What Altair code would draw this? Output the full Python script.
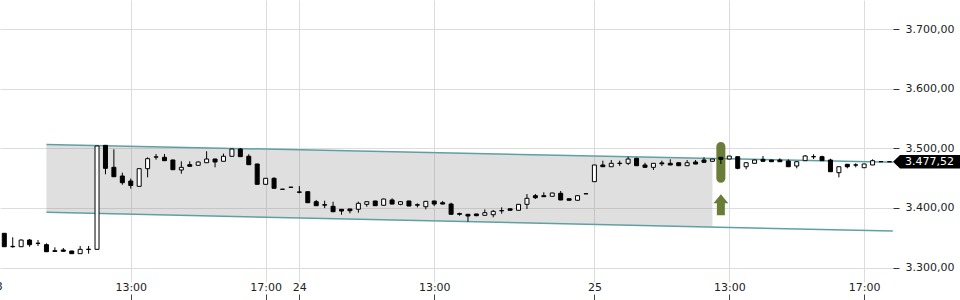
import altair as alt
import pandas as pd

# ---------------- data ----------------
open_ = [3357.4, 3335.5, 3334.9, 3346.1, 3340.8, 3338.3, 3328.2, 3329.4, 3327.7, 3323.2,
         3330.2, 3330.5, 3505.0, 3468.1, 3453.5, 3445.1, 3436.2, 3465.8, 3485.2, 3484.9,
         3480.4, 3463.6, 3472.5, 3471.5, 3475.8, 3482.0, 3478.2, 3486.6, 3498.8, 3486.6,
         3473.7, 3439.6, 3449.7, 3431.4, 3434.8, 3426.8, 3427.2, 3410.4, 3405.4, 3402.7,
         3397.6, 3398.2, 3397.7, 3406.0, 3411.6, 3404.4, 3413.3, 3406.0, 3411.6, 3405.3,
         3402.0, 3411.6, 3408.7, 3406.5, 3390.5, 3389.3, 3389.8, 3387.6, 3388.6, 3395.1,
         3398.5, 3396.0, 3406.0, 3420.5, 3420.5, 3419.5, 3424.5, 3415.4, 3412.8, 3423.6,
         3444.0, 3472.0, 3469.1, 3475.0, 3474.8, 3483.2, 3472.0, 3468.1, 3475.5, 3474.8,
         3475.8, 3470.8, 3477.0, 3480.4, 3478.2, 3484.9, 3482.0, 3485.9, 3469.1, 3474.8,
         3481.5, 3480.4, 3480.4, 3478.7, 3470.3, 3479.2, 3485.7, 3485.9, 3480.4, 3459.1,
         3473.2, 3472.2, 3467.4, 3472.0, 3477.6, 3477.5]
high = [3357.6, 3350.7, 3347.0, 3347.8, 3346.1, 3340.6, 3333.9, 3332.7, 3328.0, 3336.1,
        3336.1, 3504.2, 3505.5, 3498.3, 3459.1, 3449.3, 3466.0, 3484.9, 3490.4, 3490.4,
        3481.0, 3478.2, 3478.2, 3478.0, 3495.0, 3482.5, 3491.0, 3499.5, 3500.5, 3490.0,
        3474.0, 3450.0, 3451.3, 3431.6, 3435.0, 3436.7, 3427.5, 3413.3, 3412.1, 3410.4,
        3397.8, 3398.5, 3410.4, 3411.0, 3412.0, 3415.5, 3416.1, 3411.5, 3412.0, 3407.7,
        3411.3, 3412.0, 3411.6, 3408.7, 3392.0, 3389.5, 3390.3, 3397.6, 3396.5, 3401.0,
        3398.6, 3406.2, 3423.3, 3423.3, 3426.2, 3425.5, 3428.4, 3415.7, 3421.0, 3424.0,
        3472.2, 3479.2, 3480.4, 3479.2, 3485.9, 3484.0, 3475.8, 3475.0, 3479.2, 3481.5,
        3476.0, 3480.4, 3480.4, 3484.9, 3482.2, 3485.0, 3487.2, 3486.0, 3476.0, 3480.6,
        3487.1, 3480.6, 3483.2, 3481.5, 3477.7, 3488.8, 3490.0, 3487.6, 3482.5, 3469.3,
        3473.4, 3474.8, 3474.0, 3481.5, 3477.7, 3477.6]
low = [3334.7, 3333.2, 3334.5, 3334.9, 3336.1, 3326.0, 3326.5, 3326.5, 3323.0, 3323.0,
       3323.2, 3330.0, 3456.4, 3452.0, 3438.9, 3432.4, 3436.0, 3451.3, 3480.9, 3479.0,
       3463.5, 3457.4, 3469.6, 3471.0, 3475.5, 3468.1, 3478.0, 3486.0, 3485.8, 3472.0,
       3439.0, 3439.0, 3432.5, 3431.0, 3434.4, 3424.5, 3408.5, 3403.5, 3399.7, 3393.0,
       3388.6, 3390.9, 3392.0, 3402.0, 3403.5, 3404.0, 3406.0, 3404.5, 3403.0, 3401.0,
       3397.6, 3403.2, 3406.0, 3389.0, 3387.0, 3376.8, 3386.0, 3387.3, 3384.2, 3390.3,
       3395.9, 3395.9, 3398.2, 3414.9, 3418.6, 3419.0, 3413.0, 3412.6, 3412.5, 3423.6,
       3443.8, 3469.0, 3469.0, 3470.3, 3472.0, 3470.5, 3467.8, 3463.6, 3470.3, 3471.8,
       3470.5, 3470.5, 3473.4, 3476.2, 3478.0, 3473.7, 3481.8, 3464.8, 3464.8, 3474.6,
       3478.0, 3477.3, 3477.3, 3469.0, 3466.4, 3479.0, 3482.0, 3479.0, 3460.5, 3451.3,
       3466.4, 3468.1, 3467.0, 3471.8, 3477.4, 3477.4]
close = [3334.9, 3334.9, 3346.1, 3338.3, 3340.4, 3326.5, 3327.0, 3327.2, 3323.2, 3330.5,
         3330.8, 3503.9, 3466.4, 3452.3, 3442.3, 3437.6, 3465.8, 3482.6, 3485.6, 3479.2,
         3464.1, 3468.1, 3469.8, 3477.0, 3482.0, 3477.0, 3486.6, 3498.8, 3486.0, 3472.5,
         3439.6, 3449.7, 3432.9, 3431.2, 3434.6, 3426.2, 3408.7, 3403.7, 3404.6, 3393.6,
         3394.8, 3395.3, 3407.7, 3410.4, 3403.7, 3414.9, 3406.5, 3410.4, 3403.2, 3404.6,
         3411.0, 3406.5, 3406.5, 3389.3, 3389.3, 3386.4, 3387.0, 3392.0, 3394.3, 3395.5,
         3396.0, 3406.0, 3416.1, 3417.1, 3418.8, 3425.0, 3413.3, 3412.8, 3420.5, 3423.8,
         3472.0, 3469.1, 3474.8, 3474.6, 3482.0, 3470.8, 3468.1, 3474.8, 3474.0, 3472.0,
         3470.8, 3475.8, 3473.6, 3476.5, 3482.0, 3481.5, 3487.0, 3466.4, 3475.8, 3480.4,
         3478.2, 3477.5, 3477.5, 3469.1, 3477.5, 3487.1, 3486.1, 3479.2, 3460.7, 3469.1,
         3469.1, 3471.8, 3473.7, 3479.2, 3477.5, 3477.52]

tick_idx = [15, 31, 35, 51, 70, 86, 102]
tick_lbl = ["13:00", "17:00", "24", "13:00", "25", "13:00", "17:00"]
first_day_idx = [-1]
first_day_lbl = ["23"]
y_ticks = [3300, 3400, 3500, 3600, 3700]

chan_x = [5, 105.4]
chan_top = [3506.4, 3476.5]
chan_bot = [3392.6, 3361.2]
band_x = [5, 84]
band_top = [3506.4, 3482.9]
band_bot = [3392.6, 3367.9]

signal_idx = [85]
signal_hi = [3510.6]
signal_lo = [3442.3]
arrow_val = [3405.5]
last_price = 3477.52

# ---------------- tables ----------------
candles = pd.DataFrame({
    "i": list(range(len(open_))),
    "open": open_, "high": high, "low": low, "close": close,
})
candles["dir"] = ["up" if c >= o else "down" for o, c in zip(open_, close)]

lines = pd.DataFrame({
    "x": chan_x + chan_x,
    "y": chan_top + chan_bot,
    "line": ["top", "top", "bottom", "bottom"],
})
band = pd.DataFrame({"x": band_x, "top": band_top, "bot": band_bot})
signal = pd.DataFrame({"i": signal_idx, "hi": signal_hi, "lo": signal_lo, "arrow": arrow_val})
first_day = pd.DataFrame({"i": first_day_idx, "label": first_day_lbl})


def de_fmt(v):
    s = f"{v:,.2f}"
    return s.replace(",", "_").replace(".", ",").replace("_", ".")


last_df = pd.DataFrame({"p": [last_price], "label": [de_fmt(last_price)]})

# ---------------- scales & axes ----------------
W, H = 893, 282
xscale = alt.Scale(domain=[-0.51, 105.42], nice=False, zero=False, padding=0)
yscale = alt.Scale(domain=[3275.7, 3748.8], nice=False, zero=False, padding=0)

x_expr = ""
for v, l in zip(tick_idx, tick_lbl):
    x_expr += f"datum.value == {v} ? '{l}' : "
x_expr += "''"

FONT = "DejaVu Sans"
x_axis = alt.Axis(values=tick_idx, labelExpr=x_expr, orient="bottom", offset=12,
                  tickSize=6, labelPadding=-13, labelBaseline="middle", domain=False,
                  grid=True, gridColor="#dcdcdc", tickColor="#444", labelFont=FONT,
                  labelFontSize=11, labelColor="#222", title=None, labelOverlap=False,
                  labelFlush=False)
y_axis = alt.Axis(values=y_ticks, orient="right", tickSize=6, labelPadding=6, domain=False,
                  grid=True, gridColor="#dcdcdc", tickColor="#333", labelFont=FONT,
                  labelFontSize=11, labelColor="#222", title=None,
                  labelExpr="replace(replace(replace(format(datum.value, ',.2f'), ',', '_'), '.', ','), '_', '.')")


def X(field):
    return alt.X(field, scale=xscale, axis=x_axis)


def Y(field):
    return alt.Y(field, scale=yscale, axis=y_axis)


# ---------------- layers ----------------
band_layer = alt.Chart(band).mark_area(color="#808080", opacity=0.25).encode(
    x=X("x:Q"), y=Y("top:Q"), y2="bot:Q",
)

line_layer = alt.Chart(lines).mark_line(color="#5fa0a4", strokeWidth=1.5).encode(
    x=X("x:Q"), y=Y("y:Q"), detail="line:N",
)

sig_bar = alt.Chart(signal).mark_bar(width=9, cornerRadius=4.5, color="#6a7d38").encode(
    x=X("i:Q"), y=Y("hi:Q"), y2="lo:Q",
)

arrow_path = "M0,-1 L0.71,-0.14 L0.38,-0.14 L0.38,1 L-0.38,1 L-0.38,-0.14 L-0.71,-0.14 Z"
sig_arrow = alt.Chart(signal).mark_point(shape=arrow_path, size=441, filled=True,
                                         color="#6a7d38", opacity=1).encode(
    x=X("i:Q"), y=Y("arrow:Q"),
)

wicks = alt.Chart(candles).mark_rule(color="black", strokeWidth=1).encode(
    x=X("i:Q"), y=Y("low:Q"), y2="high:Q",
)

bodies = alt.Chart(candles).mark_bar(width=4, stroke="black", strokeWidth=1).encode(
    x=X("i:Q"), y=Y("open:Q"), y2="close:Q",
    color=alt.Color("dir:N", scale=alt.Scale(domain=["up", "down"], range=["white", "black"]),
                    legend=None),
)

day_label = alt.Chart(first_day).mark_text(align="center", baseline="middle", color="#222",
                                           font=FONT, fontSize=11).encode(
    x=X("i:Q"),
    y=alt.value(H + 5),
    text="label:N",
)

tag_path = "M-1,0 L-0.79,-0.2 L1,-0.2 L1,0.2 L-0.79,0.2 Z"
tag = alt.Chart(last_df).mark_point(shape=tag_path, size=4489, filled=True,
                                    color="black", opacity=1).encode(
    x=alt.value(W + 33.5),
    y=Y("p:Q"),
)
tag_text = alt.Chart(last_df).mark_text(align="left", baseline="middle", color="white",
                                        font=FONT, fontSize=11).encode(
    x=alt.value(W + 12),
    y=Y("p:Q"),
    text="label:N",
)

chart = alt.layer(band_layer, line_layer, sig_bar, sig_arrow, wicks, bodies,
                  day_label, tag, tag_text).properties(
    width=W, height=H,
    autosize=alt.AutoSizeParams(type="none"),
    padding={"left": 0, "right": 960 - W, "top": 0, "bottom": 300 - H},
    background="white",
).configure_view(stroke=None)

chart.save("out.html", embed_options={"renderer": "svg", "actions": False})
